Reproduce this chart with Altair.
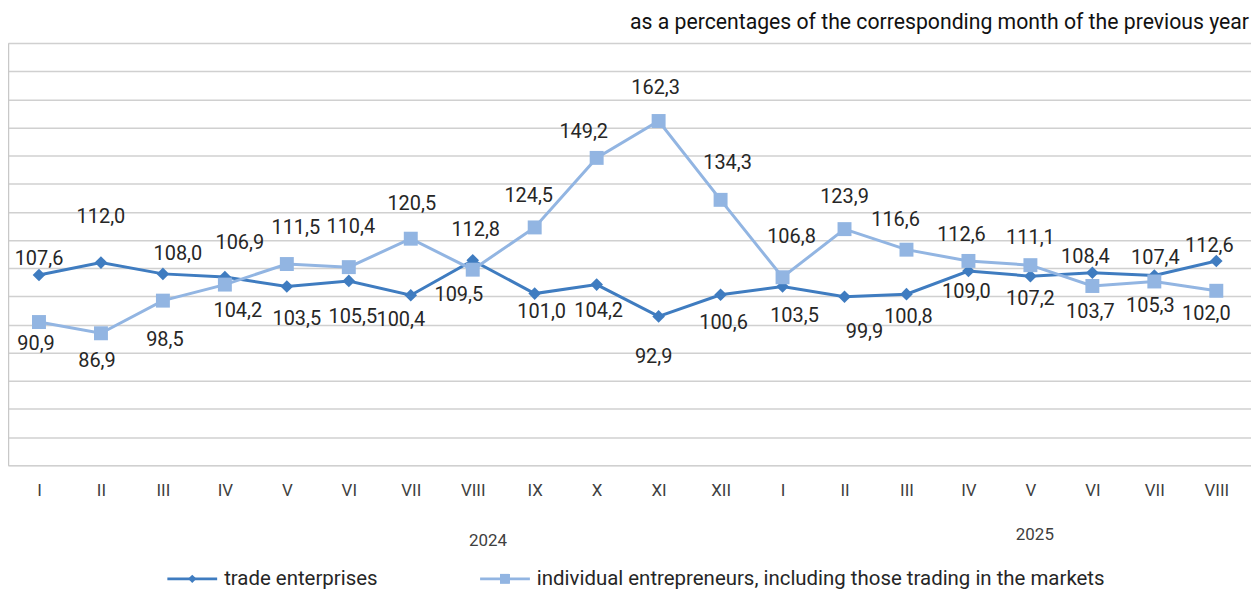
import altair as alt
import pandas as pd

# ---------------- data ----------------
months = ["I", "II", "III", "IV", "V", "VI", "VII", "VIII", "IX", "X", "XI", "XII",
          "I", "II", "III", "IV", "V", "VI", "VII", "VIII"]
years = ["2024"] * 12 + ["2025"] * 8
trade = [107.6, 112.0, 108.0, 106.9, 103.5, 105.5, 100.4, 112.8, 101.0, 104.2, 92.9, 100.6,
         103.5, 99.9, 100.8, 109.0, 107.2, 108.4, 107.4, 112.6]
individual = [90.9, 86.9, 98.5, 104.2, 111.5, 110.4, 120.5, 109.5, 124.5, 149.2, 162.3, 134.3,
              106.8, 123.9, 116.6, 112.6, 111.1, 103.7, 105.3, 102.0]
series_names = ["trade enterprises", "individual entrepreneurs, including those trading in the markets"]
subtitle = "as a percentages of the corresponding month of the previous year"

# ---------------- layout (label nudges in pixels: dx, dy) ----------------
trade_nudge = [(0, -16), (0, -46), (15, -20), (15, -34), (10, 33), (4, 36), (-10, 25), (3, -30),
               (7, 19), (2, 27), (-5, 41), (3, 28), (12, 30), (20, 35), (2, 23), (-2, 21),
               (0, 23), (-7, -16), (1, -18), (-7, -15)]
indiv_nudge = [(-3, 22), (-4, 28), (2, 40), (13, 27), (9, -36), (2, -40), (1, -35), (-14, 25),
               (-6, -32), (-13, -26), (-3, -33), (7, -37), (9, -40), (0, -32), (-11, -30),
               (-7, -26), (0, -27), (-2, 26), (-4, 25), (-10, 23)]

W, H = 1248, 424
YMIN, YMAX = 40, 190
XMIN, XMAX = -0.5, 19.56
PX_Y = H / (YMAX - YMIN)
PX_X = W / (XMAX - XMIN)

C_DARK = "#3f7cc0"
C_LIGHT = "#92b5e2"
FONT = "Roboto"
TXT = "#262626"

rows = []
for i in range(len(months)):
    rows.append(dict(idx=i, value=trade[i], series=series_names[0],
                     lx=i + trade_nudge[i][0] / PX_X,
                     ly=trade[i] - trade_nudge[i][1] / PX_Y,
                     label=f"{trade[i]:.1f}".replace(".", ",")))
    rows.append(dict(idx=i, value=individual[i], series=series_names[1],
                     lx=i + indiv_nudge[i][0] / PX_X,
                     ly=individual[i] - indiv_nudge[i][1] / PX_Y,
                     label=f"{individual[i]:.1f}".replace(".", ",")))
df = pd.DataFrame(rows)

roman_expr = "[" + ",".join(f"'{m}'" for m in months) + "][datum.value]"

X_SCALE = alt.Scale(domain=[XMIN, XMAX], nice=False, zero=False)
Y_SCALE = alt.Scale(domain=[YMIN, YMAX], nice=False, zero=False)
X_AXIS = alt.Axis(values=list(range(20)), labelExpr=roman_expr, title=None,
                  grid=False, ticks=False, domain=False, labelFont=FONT,
                  labelFontSize=17, labelColor="#404040", labelPadding=17)
Y_AXIS = alt.Axis(values=list(range(40, 191, 10)), labels=False, ticks=False,
                  title=None, grid=True, gridColor="#d0d0d0", gridWidth=1.5,
                  domain=True, domainColor="#c8c8c8", domainWidth=1.5)


def xe(f):
    return alt.X(f, scale=X_SCALE, axis=X_AXIS)


def ye(f):
    return alt.Y(f, scale=Y_SCALE, axis=Y_AXIS)


base = alt.Chart(df)
dark = base.transform_filter(alt.datum.series == series_names[0])
light = base.transform_filter(alt.datum.series == series_names[1])

dark_line = dark.mark_line(color=C_DARK, strokeWidth=3).encode(x=xe("idx:Q"), y=ye("value:Q"))
dark_pts = dark.mark_point(shape="diamond", filled=True, size=160, color=C_DARK, opacity=1).encode(
    x=xe("idx:Q"), y=ye("value:Q"))
light_line = light.mark_line(color=C_LIGHT, strokeWidth=3).encode(x=xe("idx:Q"), y=ye("value:Q"))
light_pts = light.mark_point(shape="square", filled=True, size=196, color=C_LIGHT, opacity=1).encode(
    x=xe("idx:Q"), y=ye("value:Q"))

labels = base.mark_text(font=FONT, fontSize=20, color=TXT, baseline="middle", align="center").encode(
    x=xe("lx:Q"), y=ye("ly:Q"), text="label:N")

# year labels
year_df = pd.DataFrame({"year": ["2024", "2025"], "px": [482, 1031], "py": [500, 494]})
year_txt = alt.Chart(year_df).mark_text(font=FONT, fontSize=17, color="#404040").encode(
    x=alt.X("px:Q", scale=None), y=alt.Y("py:Q", scale=None), text="year:N")

# subtitle
title_txt = alt.Chart(pd.DataFrame({"t": [subtitle]})).mark_text(
    font=FONT, fontSize=21.3, color="#111111", align="right", baseline="middle").encode(
    x=alt.value(1246), y=alt.value(-20), text="t:N")

# legend
LEG_Y = 538
leg_line1 = alt.Chart(pd.DataFrame({"a": [0]})).mark_rule(color=C_DARK, strokeWidth=3).encode(
    x=alt.value(160), x2=alt.value(210), y=alt.value(LEG_Y))
leg_pt1 = alt.Chart(pd.DataFrame({"a": [0]})).mark_point(shape="diamond", filled=True, size=70,
                                                        color=C_DARK, opacity=1).encode(
    x=alt.value(185), y=alt.value(LEG_Y))
leg_txt1 = alt.Chart(pd.DataFrame({"t": [series_names[0]]})).mark_text(
    font=FONT, fontSize=20.5, color=TXT, align="left", baseline="middle").encode(
    x=alt.value(217), y=alt.value(LEG_Y), text="t:N")
leg_line2 = alt.Chart(pd.DataFrame({"a": [0]})).mark_rule(color=C_LIGHT, strokeWidth=3).encode(
    x=alt.value(474), x2=alt.value(524), y=alt.value(LEG_Y))
leg_pt2 = alt.Chart(pd.DataFrame({"a": [0]})).mark_point(shape="square", filled=True, size=100,
                                                        color=C_LIGHT, opacity=1).encode(
    x=alt.value(499), y=alt.value(LEG_Y))
leg_txt2 = alt.Chart(pd.DataFrame({"t": [series_names[1]]})).mark_text(
    font=FONT, fontSize=20.5, color=TXT, align="left", baseline="middle").encode(
    x=alt.value(531), y=alt.value(LEG_Y), text="t:N")

chart = alt.layer(dark_line, dark_pts, light_line, light_pts, labels, year_txt, title_txt,
                  leg_line1, leg_pt1, leg_txt1, leg_line2, leg_pt2, leg_txt2).properties(
    width=W, height=H,
    autosize=alt.AutoSizeParams(type="none"),
    padding={"left": 0, "top": 34, "right": 0, "bottom": 123},
).configure_view(stroke=None).configure(background="white")

chart.save("out.html", embed_options={"renderer": "svg", "actions": False})
